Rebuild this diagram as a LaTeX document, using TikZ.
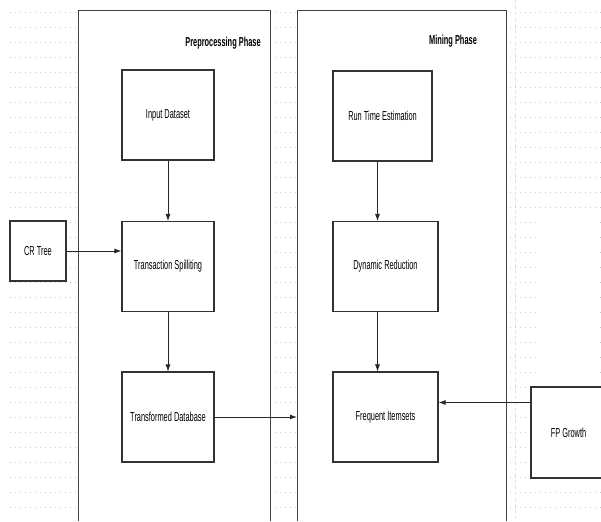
\documentclass[tikz,border=0pt]{standalone}
\usepackage{fontspec}
\setmainfont[FakeStretch=0.57]{Liberation Sans}
\usetikzlibrary{arrows.meta}

\begin{document}
\begin{tikzpicture}[x=1pt,y=-1pt,font=\fontsize{13}{15}\selectfont,
		phase/.style={draw=black!75,line width=1pt,fill=white},
		stage/.style={draw=black!80,line width=1.1pt,fill=white,inner sep=0pt,minimum width=92pt,minimum height=90pt},
		flow/.style={-{Latex[length=7pt,width=5pt]},line width=0.7pt,draw=black!85},
		dots/.style={black!22,line width=0.8pt,dash pattern=on 0.8pt off 4.2pt}]
		\useasboundingbox (0,0) rectangle (601,521);
		% grid
		\foreach \y in {12,27,...,507}
			\draw[dots] (10,\y) -- (601,\y);
		\draw[black!12,dashed] (515,0) -- (515,521);
		\fill[white] (540,214) rectangle (596,488);
		% phases
		\path[phase] (78,521) -- (78,11) -- (270,11) -- (270,521);
		\path[phase] (297,521) -- (297,11) -- (506,11) -- (506,521);
		\node (pre) at (223,43) {\bfseries Preprocessing Phase};
		\node (mine) at (453,41) {\bfseries Mining Phase};
		% stages
		\node [stage] (input) at (168,115) {Input Dataset};
		\node [stage] (trans) at (168,266.5) {Transaction Spilliting};
		\node [stage] (transf) at (168,417) {Transformed Database};
		\node [stage,minimum width=56pt,minimum height=60pt] (crtree) at (38,251) {CR Tree};
		\node [stage,minimum width=99pt] (run) at (382.5,116) {Run Time Estimation};
		\node [stage,minimum width=105pt] (dyn) at (385.5,266.5) {Dynamic Reduction};
		\node [stage,minimum width=105pt] (freq) at (385.5,417) {Frequent Itemsets};
		\node [stage,minimum width=75pt,minimum height=91pt] (fp) at (568.5,432.5) {FP Growth};
		\coordinate (edge) at (297,417);
		% connectors
		\draw[flow] (input) -- (trans);
		\draw[flow,line width=1pt] (crtree) -- (trans.west |- crtree);
		\draw[flow] (trans) -- (transf);
		\draw[flow,line width=1pt] (transf) -- (edge);
		\draw[flow] ([xshift=-5pt]run.south) -- ([xshift=-5pt]run.south |- dyn.north);
		\draw[flow] ([xshift=-8pt]dyn.south) -- ([xshift=-8pt]dyn.south |- freq.north);
		\draw[flow,line width=1pt] ([yshift=30pt]fp.west) -- ([yshift=30pt]fp.west -| freq.east);
	\end{tikzpicture}
\end{document}
